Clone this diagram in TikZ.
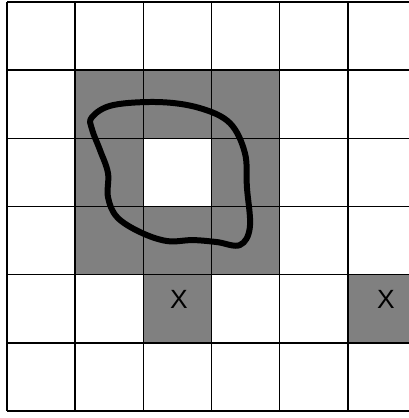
\documentclass[tikz,border=0pt]{standalone}
\usepackage{fontspec}
\setsansfont{Liberation Sans}
\usetikzlibrary{positioning}

\begin{document}
\begin{tikzpicture}[
    gridline/.style={draw=black, line width=0.6pt},
    cell/.style={fill=gray},
    blob/.style={line width=2.5pt, line join=round},
    tag/.style={font=\sffamily\fontsize{11}{13}\selectfont, inner sep=0pt}
]
\useasboundingbox (-0.103,-0.103) rectangle (5.894,6.029);
\clip (-0.103,-0.103) rectangle (5.894,6.029);
\fill[white] (-0.103,-0.103) rectangle (5.894,6.029);

% shaded cells
\foreach \x/\y in {1/4,2/4,3/4,1/3,3/3,1/2,2/2,3/2,2/1,5/1}
  \fill[cell] (\x,\y) rectangle ++(1,1);

\draw[gridline] (0,0) grid (6,6);

% closed curve
\draw[blob] plot[smooth cycle, tension=0.6] coordinates {
  (1.246,4.311) (1.554,4.487) (2.243,4.531) (2.830,4.443) (3.270,4.223)
  (3.490,3.783) (3.519,3.284) (3.563,2.698) (3.416,2.434) (3.079,2.478)
  (2.727,2.507) (2.346,2.493) (1.950,2.625) (1.613,2.845) (1.481,3.138)
  (1.481,3.490) (1.364,3.827) (1.246,4.135)};

\node[tag] (xa) at (2.52,1.63) {X};
\node[tag] (xb) at (5.56,1.63) {X};
\end{tikzpicture}
\end{document}
